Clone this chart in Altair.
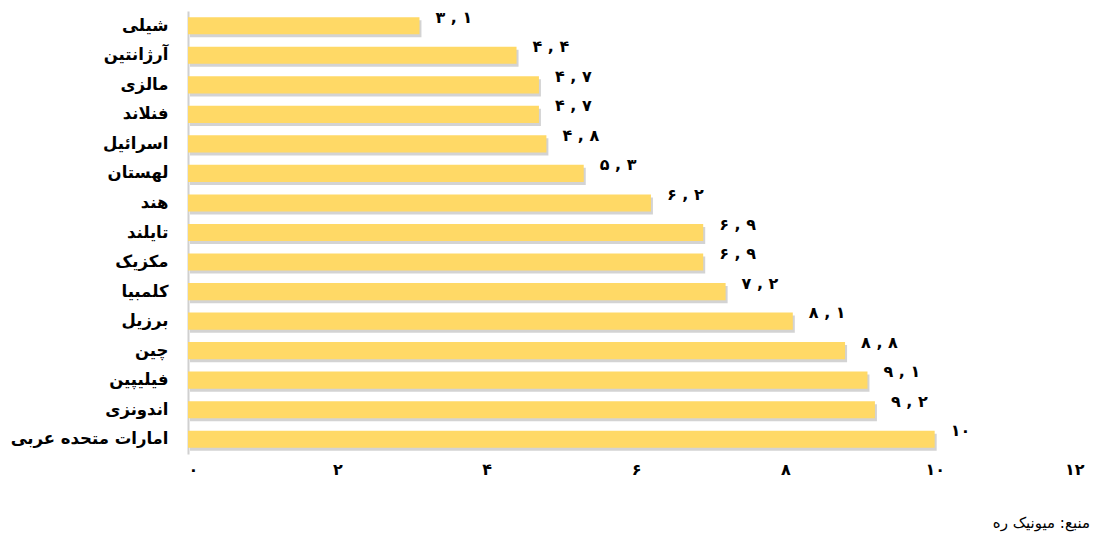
import altair as alt
import pandas as pd

countries = ["شیلی", "آرژانتین", "مالزی", "فنلاند", "اسرائیل", "لهستان", "هند",
             "تایلند", "مکزیک", "کلمبیا", "برزیل", "چین", "فیلیپین", "اندونزی",
             "امارات متحده عربی"]
values = [3.1, 4.4, 4.7, 4.7, 4.8, 5.3, 6.2, 6.9, 6.9, 7.2, 8.1, 8.8, 9.1, 9.2, 10]
tick_values = [0, 2, 4, 6, 8, 10, 12]
tick_labels = ["۰", "۲", "۴", "۶", "۸", "۱۰", "۱۲"]
source_text = "منبع: میونیک ره"

fa = str.maketrans("0123456789", "۰۱۲۳۴۵۶۷۸۹")
def to_fa(v):
    s = ("%g" % v).translate(fa)
    return s.replace(".", " , ")

df = pd.DataFrame({"country": countries, "value": values,
                   "label": [to_fa(v) for v in values]})

FONT = "DejaVu Sans"
label_map = "{" + ",".join("'%d':'%s'" % (v, l) for v, l in zip(tick_values, tick_labels)) + "}"

y_enc = alt.Y("country:N", sort=None, title=None,
              scale=alt.Scale(paddingInner=0.42, paddingOuter=0.21),
              axis=alt.Axis(ticks=False, domain=True, domainColor="#d0d0d0", domainWidth=2,
                            labelFont=FONT, labelFontSize=16.5, labelFontWeight="bold",
                            labelColor="#000000", labelPadding=20))
x_enc = alt.X("value:Q", title=None,
              scale=alt.Scale(domain=[0, 12], nice=False),
              axis=alt.Axis(values=tick_values, grid=False, ticks=False, domain=False,
                            labelFont=FONT, labelFontSize=16, labelFontWeight="bold",
                            labelColor="#000000", labelPadding=7,
                            labelExpr=label_map + "[datum.value + '']"))

base = alt.Chart(df)
shadow = base.mark_bar(color="#808080", opacity=0.35, yOffset=3, xOffset=2).encode(
    y=y_enc, x=x_enc)
bars = base.mark_bar(color="#FFD966").encode(y=y_enc, x=x_enc)
text = base.mark_text(align="left", baseline="middle", dx=16, dy=-8,
                      font=FONT, fontSize=16, fontWeight="bold", color="#000000").encode(
    y=y_enc, x=x_enc, text="label:N")

src = alt.Chart(pd.DataFrame({"t": [source_text]})).mark_text(
    align="right", baseline="middle", font=FONT, fontSize=15, color="#000000").encode(
    x=alt.value(902), y=alt.value(512), text="t:N")

chart = alt.layer(shadow, bars, text, src).properties(
    width=896, height=443,
    autosize=alt.AutoSizeParams(type="none"),
    padding={"left": 188, "top": 11, "right": 29, "bottom": 86},
).configure_view(stroke=None)

chart.save("out.html", embed_options={"renderer": "svg", "actions": False})
